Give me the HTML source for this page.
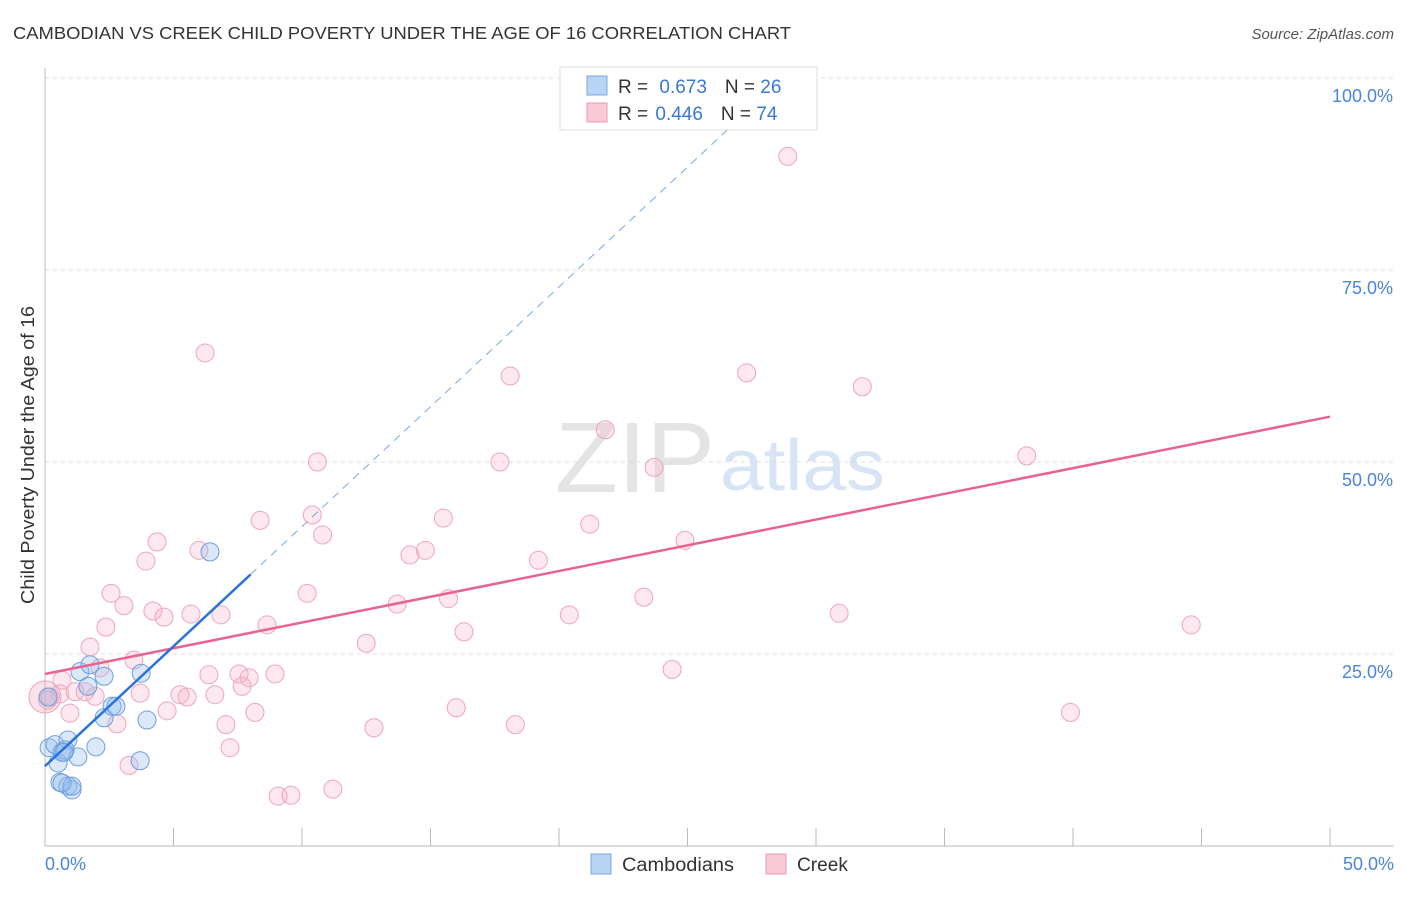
<!DOCTYPE html>
<html><head><meta charset="utf-8"><style>
body{margin:0;background:#fff;font-family:"Liberation Sans",sans-serif;}
svg text{font-family:"Liberation Sans",sans-serif;}
</style></head><body>
<svg id="chart" width="1406" height="892" xmlns="http://www.w3.org/2000/svg">
<text x="13" y="39" font-size="17.5" fill="#333" textLength="778" lengthAdjust="spacingAndGlyphs">CAMBODIAN VS CREEK CHILD POVERTY UNDER THE AGE OF 16 CORRELATION CHART</text>
<text x="1394" y="39" font-size="15" fill="#555" font-style="italic" text-anchor="end">Source: ZipAtlas.com</text>
<text x="555" y="492" font-size="100" fill="#e4e4e4" font-family="Liberation Serif" textLength="160" lengthAdjust="spacingAndGlyphs">ZIP</text>
<text x="720" y="490" font-size="72" fill="#d6e4f5" textLength="165" lengthAdjust="spacingAndGlyphs">atlas</text>
<text transform="translate(34,455) rotate(-90)" font-size="18" fill="#333" text-anchor="middle" textLength="298" lengthAdjust="spacingAndGlyphs">Child Poverty Under the Age of 16</text>
<g id="grid"></g><g id="marks"></g>
<g>
<rect x="560" y="67" width="257" height="63" fill="#fff" stroke="#ddd"/>
<rect x="587" y="76" width="20" height="19" fill="#b8d3f4" stroke="#7aa8e4"/>
<rect x="587" y="103" width="20" height="19" fill="#f9c9d6" stroke="#ec9ab2"/>
<text x="618" y="93" font-size="19" fill="#333">R = <tspan fill="#3a78d4" dx="6">0.673</tspan><tspan dx="18" fill="#333">N = </tspan><tspan fill="#3a78d4">26</tspan></text>
<text x="618" y="120" font-size="19" fill="#333">R = <tspan fill="#3a78d4" dx="2">0.446</tspan><tspan dx="18" fill="#333">N = </tspan><tspan fill="#3a78d4">74</tspan></text>
</g>
<g>
<rect x="591" y="854" width="20" height="20" fill="#b8d3f4" stroke="#7aa8e4"/>
<text x="622" y="871" font-size="19" fill="#333" textLength="112" lengthAdjust="spacingAndGlyphs">Cambodians</text>
<rect x="766" y="854" width="20" height="20" fill="#f9c9d6" stroke="#ec9ab2"/>
<text x="797" y="871" font-size="19" fill="#333" textLength="51" lengthAdjust="spacingAndGlyphs">Creek</text>
</g>
</svg>
<script>
const yTicks=[25,50,75,100];
const yTickLabels=["25.0%","50.0%","75.0%","100.0%"];
const xTicks=[0,5,10,15,20,25,30,35,40,45,50];
const blueX=[0.16,0.39,0.89,0.66,0.51,1.28,1.98,0.78,0.58,0.89,1.05,1.05,0.66,1.36,1.75,2.30,1.67,2.30,2.61,2.76,3.74,3.97,3.70,6.42,0.12,0.74];
const blueY=[12.8,13.2,13.8,12.2,10.8,11.6,12.9,12.5,8.3,7.8,7.3,7.8,8.2,22.7,23.6,22.1,20.8,16.7,18.2,18.2,22.5,16.4,11.1,38.3,19.4,12.2];
const pinkX=[28.9,6.23,18.1,27.3,31.8,21.8,10.6,17.7,23.7,38.2,4.36,5.99,8.37,10.4,10.8,15.5,21.2,24.9,3.93,14.2,14.8,19.2,2.57,3.07,4.20,4.63,5.68,6.85,10.2,13.7,15.7,20.4,23.3,30.9,44.6,1.75,2.37,8.64,12.5,16.3,3.46,2.14,0.66,0.58,1.17,1.56,1.95,3.70,5.25,5.53,6.61,6.38,7.55,7.94,7.67,8.95,0.97,4.75,2.80,7.04,8.17,12.8,16.0,18.3,24.4,7.20,3.27,9.07,9.57,11.2,39.9,0.2,0.1];
const pinkY=[89.8,64.2,61.2,61.6,59.8,54.2,50.0,50.0,49.3,50.8,39.6,38.5,42.4,43.1,40.5,42.7,41.9,39.8,37.1,37.9,38.5,37.2,32.9,31.3,30.6,29.8,30.2,30.1,32.9,31.5,32.2,30.1,32.4,30.3,28.8,25.9,28.5,28.8,26.4,27.9,24.2,23.2,21.6,19.8,20.1,20.1,19.5,19.9,19.7,19.4,19.7,22.3,22.4,21.9,20.8,22.4,17.3,17.6,15.9,15.8,17.4,15.4,18.0,15.8,23.0,12.8,10.5,6.5,6.6,7.4,17.4,19.4,19.0];
const blueFit=[10.4,3.12];
const pinkFit=[22.4,0.67];
const NS="http://www.w3.org/2000/svg";
const X=v=>45+v*25.7, Y=v=>846-v*7.68;
function mk(t,a,p){const e=document.createElementNS(NS,t);for(const k in a)e.setAttribute(k,a[k]);p.appendChild(e);return e;}
const g=document.getElementById('grid'), m=document.getElementById('marks');
yTicks.forEach((t,i)=>{
 const l=mk('line',{x1:45,x2:1394,y1:Y(t),y2:Y(t),stroke:'#ddd','stroke-dasharray':'4,4'},g);
 
 
 const tx=mk('text',{x:1393,y:Y(t)+24,'font-size':18,fill:'#4a86d8','text-anchor':'end'},g);
 tx.textContent=yTickLabels[i];
 
 
});
const ax=mk('line',{x1:45,x2:1394,y1:846,y2:846,stroke:'#bbb'},g);


const ay=mk('line',{x1:45,x2:45,y1:68,y2:846,stroke:'#bbb'},g);


xTicks.forEach(t=>{
 const l=mk('line',{x1:X(t),x2:X(t),y1:828,y2:846,stroke:'#bbb'},g);
 
 
});
[[0,'0.0%','start',45],[50,'50.0%','end',1394]].forEach(a=>{
 const tx=mk('text',{x:a[3],y:870,'font-size':18,fill:'#4a86d8','text-anchor':a[2]},g);
 tx.textContent=a[1];
 
 
});
const big=mk('circle',{cx:X(0),cy:Y(19.4),r:16,fill:'rgba(240,160,185,0.3)',stroke:'#eaa0b6'},m);


pinkX.forEach((x,i)=>{
 const c=mk('circle',{cx:X(x),cy:Y(pinkY[i]),r:9,fill:'rgba(246,180,200,0.3)',stroke:'#eda5bb','stroke-width':1},m);
 
 
});
blueX.forEach((x,i)=>{
 const c=mk('circle',{cx:X(x),cy:Y(blueY[i]),r:9,fill:'rgba(150,190,238,0.35)',stroke:'#6a9fe2','stroke-width':1},m);
 
 
});
const pl=mk('line',{x1:X(0),y1:Y(pinkFit[0]),x2:X(50),y2:Y(pinkFit[0]+50*pinkFit[1]),stroke:'#e8638e','stroke-width':2.5},m);


const bx1=8, bx2=(95-blueFit[0])/blueFit[1];
const bl=mk('line',{x1:X(0),y1:Y(blueFit[0]),x2:X(bx1),y2:Y(blueFit[0]+bx1*blueFit[1]),stroke:'#2b73d8','stroke-width':2.5},m);


const bd=mk('line',{x1:X(bx1),y1:Y(blueFit[0]+bx1*blueFit[1]),x2:X(bx2),y2:Y(95),stroke:'#7aa6e4','stroke-width':1,'stroke-dasharray':'8,6'},m);


</script>
</body></html>
